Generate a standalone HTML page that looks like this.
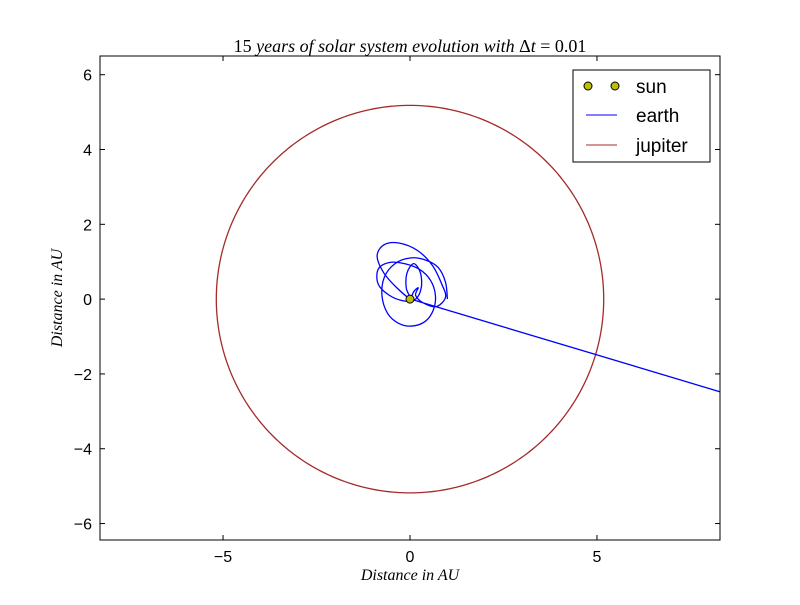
<!DOCTYPE html>
<html><head><meta charset="utf-8"><style>
body{margin:0;background:#fff}
svg text{font-family:"Liberation Sans",sans-serif}
.m{font-family:"Liberation Serif",serif;font-style:italic}
</style></head><body>
<svg width="800" height="600" xmlns="http://www.w3.org/2000/svg">
<rect width="800" height="600" fill="#fff"/>
<g id="plot"></g>
<rect x="100" y="56" width="620" height="484" fill="none" stroke="#000"/>
<g id="ticks"></g>
<text x="410" y="52" text-anchor="middle" font-size="18" class="m"><tspan font-style="normal">15</tspan> years of solar system evolution with <tspan font-style="normal">Δ</tspan>t<tspan font-style="normal"> = 0.01</tspan></text>
<text x="410" y="580" text-anchor="middle" font-size="16" class="m">Distance in AU</text>
<text transform="translate(62,298) rotate(-90)" text-anchor="middle" font-size="16" class="m">Distance in AU</text>
<g>
<rect x="573" y="70" width="137" height="92" fill="#fff" stroke="#000"/>
<g><circle cx="588" cy="86" r="4" fill="#bfbf00" stroke="#000"/><circle cx="615" cy="86" r="4" fill="#bfbf00" stroke="#000"/><text x="636" y="93" font-size="19">sun</text></g>
<g><line x1="586" y1="115" x2="617" y2="115" stroke="#0000ff"/><text x="636" y="122" font-size="19">earth</text></g>
<g><line x1="586" y1="145" x2="617" y2="145" stroke="#a52a2a"/><text x="636" y="152" font-size="19">jupiter</text></g>
</g>
</svg>
<script>
const xTicks=[-5,0,5];
const yTicks=[-6,-4,-2,0,2,4,6];
const jupiterRadius=5.18;
const earthX=[1.0,0.95,0.75,0.4,0,-0.4,-0.68,-0.75,-0.6,-0.3,0.05,0.4,0.62,0.68,0.55,0.25,-0.15,-0.55,-0.85,-0.85,-0.55,-0.15,0.15,0.3,0.28,0.1,-0.08,-0.1,0,-0.35,-0.7,-0.88,-0.7,-0.3,0.2,0.6,0.85,0.95,0.7,0.35,0.15,0.22,0.1,0.02];
const earthY=[0,0.45,0.85,1.05,1.1,0.95,0.6,0.1,-0.38,-0.65,-0.72,-0.6,-0.3,0.1,0.5,0.8,0.95,0.98,0.8,0.4,0.1,-0.05,0,0.3,0.7,0.95,0.7,0.3,0.02,0.3,0.7,1.15,1.45,1.5,1.3,0.9,0.4,0.05,-0.2,-0.1,0.1,0.3,0.2,0];
const tailX=[0.02,9];
const tailY=[0,-2.69];
const sunX=[0];const sunY=[0];
const X0=100,X1=720,Y0=56,Y1=540,xmin=-8.29,xmax=8.29,ymin=-6.44,ymax=6.5;
const sx=v=>X0+(v-xmin)/(xmax-xmin)*(X1-X0);
const sy=v=>Y1-(v-ymin)/(ymax-ymin)*(Y1-Y0);
const NS="http://www.w3.org/2000/svg";
const plot=document.getElementById('plot'),tk=document.getElementById('ticks');
function mk(t,a,p){const e=document.createElementNS(NS,t);for(const k in a)e.setAttribute(k,a[k]);p.appendChild(e);return e;}
const clip=mk('clipPath',{id:'c'},plot);mk('rect',{x:X0,y:Y0,width:X1-X0,height:Y1-Y0},clip);
const g=mk('g',{'clip-path':'url(#c)'},plot);
let jp=[];for(let i=0;i<=360;i++){const a=i*Math.PI/180;jp.push(sx(jupiterRadius*Math.cos(a))+','+sy(jupiterRadius*Math.sin(a)));}
const j=mk('polyline',{points:jp.join(' '),fill:'none',stroke:'#a52a2a','stroke-width':1.3},g);


const P=earthX.map((x,i)=>[sx(x),sy(earthY[i])]);
let d='M'+P[0][0]+','+P[0][1];
for(let i=0;i<P.length-1;i++){const p0=P[Math.max(i-1,0)],p1=P[i],p2=P[i+1],p3=P[Math.min(i+2,P.length-1)];
d+=' C'+(p1[0]+(p2[0]-p0[0])/6)+','+(p1[1]+(p2[1]-p0[1])/6)+' '+(p2[0]-(p3[0]-p1[0])/6)+','+(p2[1]-(p3[1]-p1[1])/6)+' '+p2[0]+','+p2[1];}
d+=' L'+sx(tailX[1])+','+sy(tailY[1]);
const e=mk('path',{d:d,fill:'none',stroke:'#0000ff','stroke-width':1.3,'stroke-linejoin':'round'},g);


sunX.forEach((x,i)=>{const c=mk('circle',{cx:sx(x),cy:sy(sunY[i]),r:4,fill:'#bfbf00',stroke:'#000'},g);

});
xTicks.forEach(v=>{const x=sx(v);mk('line',{x1:x,x2:x,y1:Y1,y2:Y1-5,stroke:'#000'},tk);mk('line',{x1:x,x2:x,y1:Y0,y2:Y0+5,stroke:'#000'},tk);
const t=mk('text',{x:x,y:Y1+22,'text-anchor':'middle','font-size':16},tk);t.textContent=(v<0?'\u2212':'')+Math.abs(v);

});
yTicks.forEach(v=>{const y=sy(v);mk('line',{x1:X0,x2:X0+5,y1:y,y2:y,stroke:'#000'},tk);mk('line',{x1:X1,x2:X1-5,y1:y,y2:y,stroke:'#000'},tk);
const t=mk('text',{x:X0-8,y:y+6,'text-anchor':'end','font-size':16},tk);t.textContent=(v<0?'\u2212':'')+Math.abs(v);

});
</script>
</body></html>
